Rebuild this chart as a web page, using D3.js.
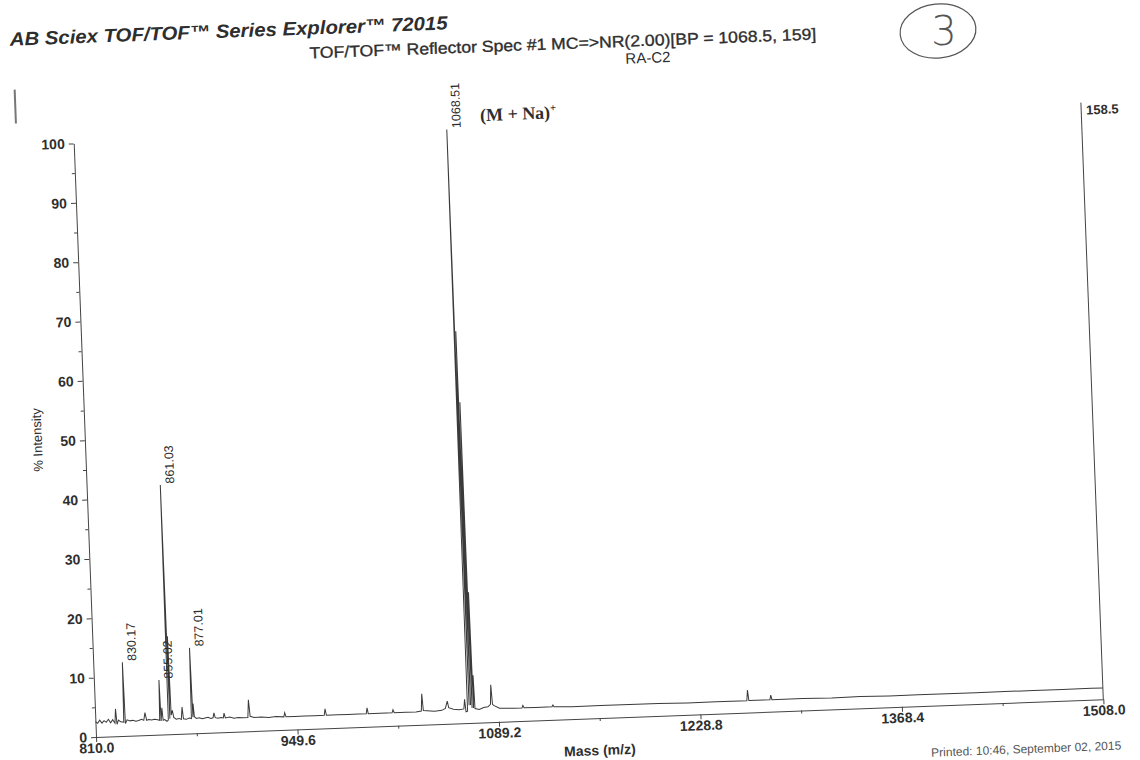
<!DOCTYPE html>
<html>
<head>
<meta charset="utf-8">
<script src="https://cdn.jsdelivr.net/npm/d3@7"></script>
<style>
  body { margin: 0; background: #fff; }
  text { font-family: "Liberation Sans", Arial, sans-serif; fill: #2e2e2e; }
</style>
</head>
<body>
<svg id="chart"></svg>
<script>
// axis ticks
const massTicks = [810.0, 949.6, 1089.2, 1228.8, 1368.4, 1508.0];
const massMinorTicks = [879.8, 1019.4, 1159.0, 1298.6, 1438.2];
const intensityTicks = [0, 10, 20, 30, 40, 50, 60, 70, 80, 90, 100];
const intensityMinorTicks = [5, 15, 25, 35, 45, 55, 65, 75, 85, 95];

// spectrum (m/z, % intensity)
const spectrumMz = [
  810.0, 811.5, 813.0, 814.5, 816.0, 817.5, 819.0, 820.5, 822.0, 823.5, 824.2, 824.9,
  826.0, 827.5, 829.6, 830.17, 830.7, 832.0, 834.0, 836.0, 838.0, 840.0, 842.0, 843.5,
  844.5, 845.5, 847.0, 849.0, 851.0, 853.0, 854.5, 855.02, 855.5, 856.3, 856.9, 858.0,
  859.5, 860.5, 861.03, 861.6, 862.03, 862.6, 863.5, 864.3, 866.0, 868.0, 869.5, 870.3,
  871.0, 873.0, 875.0, 876.5, 877.01, 877.6, 878.0, 878.6, 880.0, 882.0, 884.0, 886.0,
  888.0, 890.0, 891.5, 892.2, 893.0, 895.0, 897.0, 898.6, 899.2, 900.0, 903.0, 906.0,
  909.0, 912.0, 915.6, 916.4, 917.2, 920.0, 925.0, 930.0, 935.0, 940.5, 941.2, 942.0,
  948.0, 955.0, 962.0, 968.5, 969.2, 970.0, 978.0, 985.0, 992.0, 997.6, 998.3, 999.0,
  1007.0, 1015.5, 1016.2, 1017.0, 1025.0, 1032.0, 1035.8, 1036.5, 1037.2, 1045.0, 1050.0, 1052.5,
  1053.2, 1054.0, 1054.8, 1058.0, 1062.0, 1065.3, 1066.0, 1066.7, 1067.8, 1068.51, 1069.0, 1069.51,
  1070.0, 1070.51, 1071.0, 1071.51, 1072.0, 1072.5, 1073.0, 1076.0, 1079.0, 1082.0, 1083.8, 1084.5,
  1085.2, 1086.0, 1090.0, 1100.0, 1105.5, 1106.2, 1107.0, 1115.0, 1126.3, 1127.0, 1127.7, 1140.0,
  1160.0, 1180.0, 1200.0, 1220.0, 1240.0, 1261.3, 1262.0, 1262.7, 1277.3, 1278.0, 1278.7, 1300.0,
  1320.0, 1340.0, 1360.0, 1380.0, 1400.0, 1420.0, 1440.0, 1460.0, 1480.0, 1500.0, 1508.0
];
const spectrumInt = [
  2.6, 2.3, 2.8, 2.3, 2.7, 2.4, 2.9, 2.3, 2.8, 2.2, 4.6, 2.0,
  2.7, 2.4, 2.3, 12.4, 2.1, 2.7, 2.5, 2.6, 2.4, 2.5, 2.7, 2.5,
  3.8, 2.5, 2.6, 2.5, 2.6, 2.5, 2.4, 9.2, 2.3, 4.5, 2.4, 2.5,
  2.2, 2.4, 42.0, 2.6, 16.5, 3.2, 4.0, 2.8, 2.5, 2.6, 2.4, 4.5,
  2.5, 2.4, 2.6, 2.5, 14.4, 2.7, 5.0, 2.8, 2.5, 2.6, 2.4, 2.5,
  2.6, 2.4, 2.5, 3.3, 2.5, 2.4, 2.5, 2.4, 3.2, 2.4, 2.5, 2.3,
  2.4, 2.3, 2.3, 5.3, 2.5, 2.3, 2.3, 2.2, 2.3, 2.2, 2.9, 2.2,
  2.2, 2.2, 2.2, 2.2, 3.3, 2.2, 2.2, 2.2, 2.2, 2.2, 3.2, 2.2,
  2.2, 2.2, 2.7, 2.2, 2.2, 2.2, 2.3, 5.2, 2.4, 2.2, 2.3, 2.6,
  3.2, 3.8, 2.7, 2.4, 2.3, 2.4, 4.0, 1.9, 2.0, 100, 3.0, 66,
  3.0, 54, 2.5, 22, 2.5, 8.0, 2.4, 2.2, 2.5, 2.6, 3.0, 6.3,
  3.0, 2.8, 2.3, 2.2, 2.2, 2.6, 2.2, 2.2, 2.2, 2.5, 2.2, 2.1,
  2.1, 2.1, 2.1, 2.0, 2.0, 2.0, 3.8, 2.0, 2.0, 2.8, 2.0, 2.0,
  1.9, 2.0, 1.9, 1.9, 1.9, 1.9, 1.9, 1.9, 1.9, 1.9, 1.9
];

// labelled peaks
const peakLabels = ["830.17", "855.02", "861.03", "877.01", "1068.51"];
const peakLabelMz = [830.17, 855.02, 861.03, 877.01, 1068.51];
const peakLabelInt = [12.4, 9.2, 42.0, 14.4, 100];

const W = 1140, H = 760;
const svg = d3.select("#chart").attr("width", W).attr("height", H);

// handwritten circled number (not part of the tilted print)
svg.append("ellipse")
  .attr("cx", 938).attr("cy", 31).attr("rx", 38).attr("ry", 27)
  .attr("fill", "none").attr("stroke", "#555").attr("stroke-width", 1.2)
  .attr("transform", "rotate(-6, 938, 31)");
svg.append("text")
  .attr("x", 944).attr("y", 45)
  .attr("text-anchor", "middle")
  .style("font-size", "40px").style("font-weight", "300")
  .style("font-family", "'DejaVu Sans', sans-serif")
  .style("fill", "#555")
  .text("3");

// the scanned print is tilted a little
const page = svg.append("g").attr("transform", "rotate(-2.15, 96, 737)");

const x = d3.scaleLinear().domain([810, 1508]).range([96, 1104]);
const y = d3.scaleLinear().domain([0, 100]).range([737, 143]);

// titles
page.append("text")
  .attr("x", 36).attr("y", 43)
  .attr("textLength", 438).attr("lengthAdjust", "spacingAndGlyphs")
  .style("font-size", "19px").style("font-weight", "bold").style("font-style", "italic")
  .text("AB Sciex TOF/TOF™ Series Explorer™ 72015");

page.append("text")
  .attr("x", 335).attr("y", 67)
  .attr("textLength", 507).attr("lengthAdjust", "spacingAndGlyphs")
  .style("font-size", "16px")
  .style("stroke", "#2e2e2e").style("stroke-width", 0.35)
  .text("TOF/TOF™ Reflector Spec #1 MC=>NR(2.00)[BP = 1068.5, 159]");

page.append("text")
  .attr("x", 673).attr("y", 84)
  .attr("text-anchor", "middle")
  .style("font-size", "15px")
  .text("RA-C2");

// small bar in the top left corner
page.append("line")
  .attr("x1", 39).attr("x2", 39).attr("y1", 87).attr("y2", 121)
  .attr("stroke", "#777").attr("stroke-width", 2);

// spectrum
const line = d3.line()
  .x(d => x(d[0]))
  .y(d => y(d[1]));

page.append("path")
  .datum(spectrumMz.map((m, i) => [m, spectrumInt[i]]))
  .attr("fill", "none")
  .attr("stroke", "#3a3a3a")
  .attr("stroke-width", 1)
  .attr("d", line);

// right frame line with absolute intensity
page.append("line")
  .attr("x1", x(1508)).attr("x2", x(1508))
  .attr("y1", y(0)).attr("y2", y(100.5))
  .attr("stroke", "#444").attr("stroke-width", 1);
page.append("text")
  .attr("x", x(1508) + 5).attr("y", y(100.5) + 12)
  .style("font-size", "13px").style("font-weight", "bold")
  .text("158.5");

// axes
const xAxis = page.append("g")
  .attr("transform", `translate(0,${y(0)})`)
  .call(d3.axisBottom(x).tickValues(massTicks).tickFormat(d3.format(".1f"))
    .tickSize(5).tickSizeOuter(0).tickPadding(1));
page.append("g")
  .attr("transform", `translate(0,${y(0)})`)
  .call(d3.axisBottom(x).tickValues(massMinorTicks).tickFormat("").tickSize(3).tickSizeOuter(0))
  .call(g => g.select(".domain").remove());

const yAxis = page.append("g")
  .attr("transform", `translate(${x(810)},0)`)
  .call(d3.axisLeft(y).tickValues(intensityTicks).tickSize(5).tickSizeOuter(0).tickPadding(4));
page.append("g")
  .attr("transform", `translate(${x(810)},0)`)
  .call(d3.axisLeft(y).tickValues(intensityMinorTicks).tickFormat("").tickSize(3).tickSizeOuter(0))
  .call(g => g.select(".domain").remove());

page.selectAll(".domain, .tick line").attr("stroke", "#444");
[xAxis, yAxis].forEach(a => a.selectAll("text")
  .style("font-size", "14px").style("font-weight", "bold")
  .style("font-family", "'Liberation Sans', Arial, sans-serif")
  .attr("fill", "#2e2e2e"));

// axis titles
page.append("text")
  .attr("x", 599).attr("y", 774)
  .attr("text-anchor", "middle")
  .style("font-size", "14px").style("font-weight", "bold")
  .text("Mass (m/z)");

page.append("text")
  .attr("transform", "rotate(-90)")
  .attr("x", -438).attr("y", 53)
  .attr("text-anchor", "middle")
  .style("font-size", "13px")
  .text("% Intensity");

// peak labels
page.selectAll(".peak-label")
  .data(peakLabels)
  .enter()
  .append("text")
  .attr("class", "peak-label")
  .attr("transform", (d, i) => `translate(${x(peakLabelMz[i]) + 14},${y(peakLabelInt[i]) - 1}) rotate(-90)`)
  .style("font-size", "12.5px")
  .text(d => d);

// ion annotation
const ion = page.append("text")
  .attr("x", 503).attr("y", 136)
  .style("font-family", "'Liberation Serif', 'Times New Roman', serif")
  .style("font-size", "18px").style("font-weight", "bold");
ion.append("tspan").text("(M + Na)");
ion.append("tspan").attr("dy", -7).style("font-size", "11px").text("+");

// print footer at the bottom edge
page.append("text")
  .attr("x", 930).attr("y", 788)
  .style("font-size", "12px")
  .style("fill", "#555")
  .text("Printed: 10:46, September 02, 2015");
</script>
</body>
</html>
